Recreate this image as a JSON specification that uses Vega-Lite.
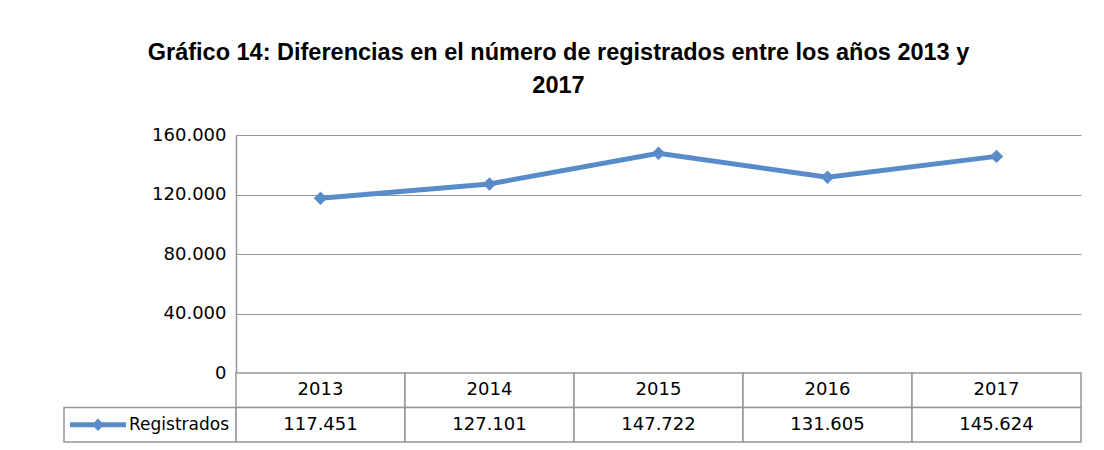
{
  "$schema": "https://vega.github.io/schema/vega-lite/v6.json",
  "padding": {"left": 63, "top": 40, "right": 24, "bottom": 9},
  "background": "white",
  "config": {
    "locale": {"number": {"decimal": ",", "thousands": ".", "grouping": [3], "currency": ["", " €"]}},
    "view": {"stroke": null},
    "font": "DejaVu Sans"
  },
  "title": {
    "text": ["Gráfico 14: Diferencias en el número de registrados entre los años 2013 y", "2017"],
    "font": "Liberation Sans",
    "fontSize": 23.5,
    "fontWeight": "bold",
    "lineHeight": 33,
    "color": "#000000",
    "anchor": "middle",
    "offset": 29,
    "dx": -14
  },
  "datasets": {
    "registros": [
      {"anio": "2013", "registrados": 117451},
      {"anio": "2014", "registrados": 127101},
      {"anio": "2015", "registrados": 147722},
      {"anio": "2016", "registrados": 131605},
      {"anio": "2017", "registrados": 145624}
    ],
    "leyenda": [{"serie": "Registrados"}],
    "vacio": [{"t": ""}]
  },
  "columns": 2,
  "spacing": 0,
  "bounds": "flush",
  "align": "each",
  "concat": [
    {
      "width": 172,
      "height": 238,
      "data": {"name": "vacio"},
      "mark": {"type": "text"},
      "encoding": {"text": {"field": "t"}}
    },
    {
      "width": 845,
      "height": 238,
      "data": {"name": "registros"},
      "encoding": {
        "x": {"field": "anio", "type": "ordinal", "scale": {"type": "point", "padding": 0.5}, "axis": null},
        "y": {
          "field": "registrados",
          "type": "quantitative",
          "scale": {"domain": [0, 160000]},
          "axis": {
            "values": [0, 40000, 80000, 120000, 160000],
            "format": ",.0f",
            "title": null,
            "ticks": false,
            "grid": true,
            "gridColor": "#969696",
            "gridWidth": 1.2,
            "domainColor": "#969696",
            "domainWidth": 1.5,
            "labelFontSize": 18,
            "labelColor": "#000000",
            "labelPadding": 10
          }
        }
      },
      "layer": [
        {"mark": {"type": "line", "color": "#588CC8", "strokeWidth": 5}},
        {"mark": {"type": "point", "shape": "diamond", "filled": true, "size": 180, "color": "#588CC8", "opacity": 1}}
      ]
    },
    {
      "width": 172,
      "height": 69,
      "data": {"name": "leyenda"},
      "encoding": {
        "y": {"datum": "Registrados", "type": "nominal", "scale": {"domain": ["Año", "Registrados"], "type": "band", "paddingInner": 0, "paddingOuter": 0}, "axis": null}
      },
      "layer": [
        {"mark": {"type": "rect", "fill": "white", "stroke": "#969696", "strokeWidth": 1.5}},
        {"mark": {"type": "point", "shape": "M-1,-0.09H1V0.09H-1Z M0,-0.22L0.22,0L0,0.22L-0.22,0Z", "filled": true, "size": 3136, "color": "#588CC8", "opacity": 1, "xOffset": -52}},
        {"mark": {"type": "text", "fontSize": 17, "color": "#000000", "dx": 29}, "encoding": {"text": {"field": "serie"}}}
      ]
    },
    {
      "width": 845,
      "height": 69,
      "data": {"name": "registros"},
      "encoding": {
        "x": {"field": "anio", "type": "ordinal", "scale": {"type": "band", "paddingInner": 0, "paddingOuter": 0}, "axis": null}
      },
      "layer": [
        {"mark": {"type": "rect", "fill": "white", "stroke": "#969696", "strokeWidth": 1.5},
         "encoding": {"y": {"datum": "Año", "type": "nominal", "scale": {"domain": ["Año", "Registrados"], "paddingInner": 0, "paddingOuter": 0}, "axis": null}}},
        {"mark": {"type": "rect", "fill": "white", "stroke": "#969696", "strokeWidth": 1.5},
         "encoding": {"y": {"datum": "Registrados", "type": "nominal"}}},
        {"mark": {"type": "text", "fontSize": 18, "color": "#000000"},
         "encoding": {"y": {"datum": "Año", "type": "nominal"}, "text": {"field": "anio"}}},
        {"mark": {"type": "text", "fontSize": 18, "color": "#000000"},
         "encoding": {"y": {"datum": "Registrados", "type": "nominal"}, "text": {"field": "registrados", "type": "quantitative", "format": ",.0f"}}}
      ]
    }
  ]
}
